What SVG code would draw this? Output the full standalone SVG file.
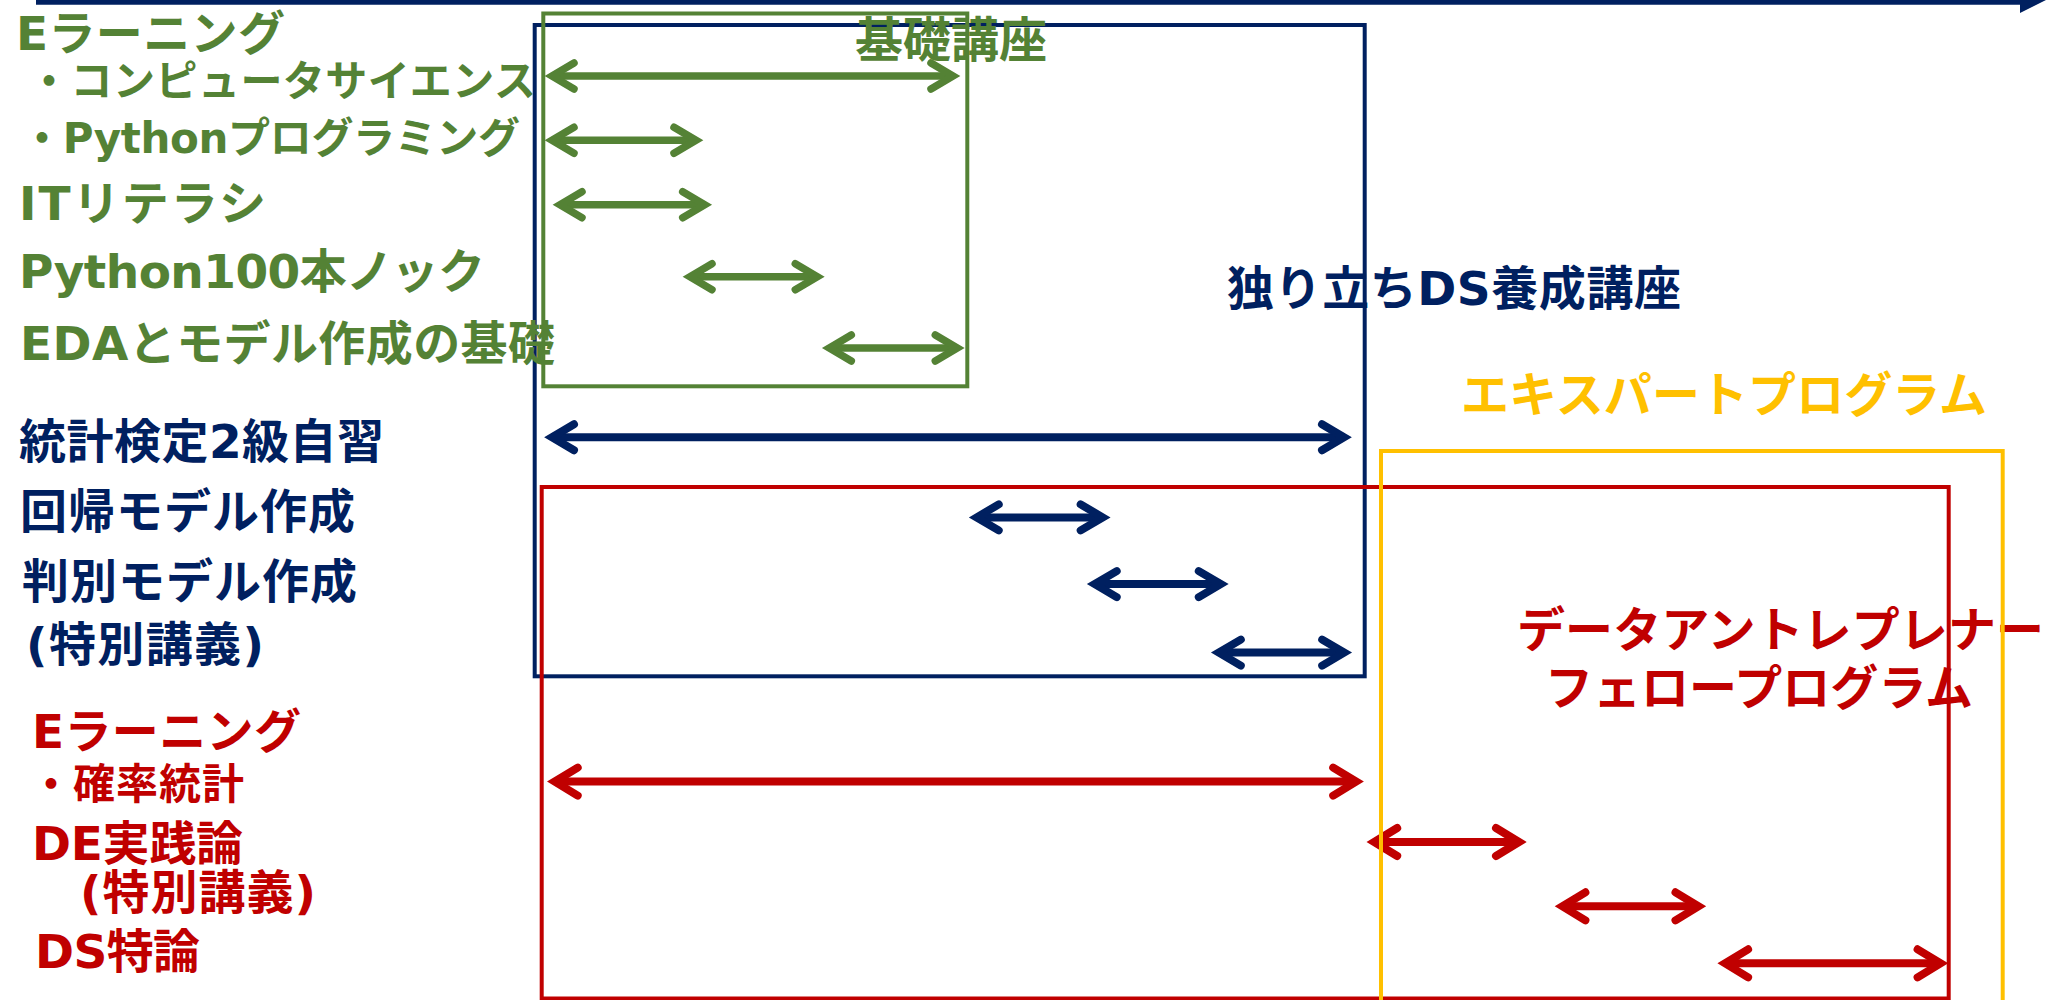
<svg xmlns="http://www.w3.org/2000/svg" width="2046" height="1000" viewBox="0 0 2046 1000">
  <style>
    text { font-family: "DejaVu Sans", "Noto Sans CJK JP", sans-serif; font-weight: bold; }
    .g { fill: #548235; }
    .n { fill: #002060; }
    .r { fill: #C00000; }
    .y { fill: #FFC000; }
    .box { fill: none; stroke-width: 4; }
    .ag { stroke: #548235; stroke-width: 7.5; fill: none; }
    .an { stroke: #002060; stroke-width: 8; fill: none; }
    .ar { stroke: #C00000; stroke-width: 8; fill: none; }
  </style>
  <defs>
    <marker id="mg" markerUnits="userSpaceOnUse" orient="auto-start-reverse" overflow="visible" refX="0" refY="0" markerWidth="1" markerHeight="1">
      <path d="M -22,-13 L 0,0 L -22,13" fill="none" stroke="#548235" stroke-width="7.5" stroke-linecap="round" stroke-linejoin="miter"/>
    </marker>
    <marker id="mn" markerUnits="userSpaceOnUse" orient="auto-start-reverse" overflow="visible" refX="0" refY="0" markerWidth="1" markerHeight="1">
      <path d="M -22,-13 L 0,0 L -22,13" fill="none" stroke="#002060" stroke-width="8" stroke-linecap="round" stroke-linejoin="miter"/>
    </marker>
    <marker id="mr" markerUnits="userSpaceOnUse" orient="auto-start-reverse" overflow="visible" refX="0" refY="0" markerWidth="1" markerHeight="1">
      <path d="M -23,-14 L 0,0 L -23,14" fill="none" stroke="#C00000" stroke-width="8" stroke-linecap="round" stroke-linejoin="miter"/>
    </marker>
  </defs>

  <rect width="2046" height="1000" fill="#FFFFFF"/>

  <!-- time axis along the top edge -->
  <g id="timeline">
    <line x1="36" y1="0" x2="2021" y2="0" stroke="#002060" stroke-width="9.4"/>
    <polygon points="2020,-13 2046,0 2020,13" fill="#002060"/>
  </g>

  <!-- programme frames -->
  <g id="ds-course">
    <rect class="box" x="534.7" y="25" width="830" height="651.3" stroke="#002060"/>
    <text class="n" x="1227" y="305" font-size="47" textLength="454">独り立ちDS養成講座</text>
  </g>
  <g id="basic-course">
    <rect class="box" x="543.3" y="13.5" width="424" height="372.8" stroke="#548235"/>
    <text class="g" x="855" y="57" font-size="48" textLength="192">基礎講座</text>
  </g>
  <g id="entrepreneur-program">
    <rect class="box" x="541.7" y="487" width="1407" height="511.5" stroke="#C00000"/>
    <text class="r" x="1517" y="647" font-size="48" textLength="527">データアントレプレナー</text>
    <text class="r" x="1545" y="705" font-size="48" textLength="428">フェロープログラム</text>
  </g>

  <!-- course duration arrows -->
  <g id="connectors">
    <line class="ag" x1="552" y1="76" x2="953" y2="76" marker-start="url(#mg)" marker-end="url(#mg)"/>
    <line class="ag" x1="552" y1="140.3" x2="696" y2="140.3" marker-start="url(#mg)" marker-end="url(#mg)"/>
    <line class="ag" x1="560" y1="204.7" x2="704.7" y2="204.7" marker-start="url(#mg)" marker-end="url(#mg)"/>
    <line class="ag" x1="690" y1="276.7" x2="817.3" y2="276.7" marker-start="url(#mg)" marker-end="url(#mg)"/>
    <line class="ag" x1="829.3" y1="348" x2="957.3" y2="348" marker-start="url(#mg)" marker-end="url(#mg)"/>

    <line class="an" x1="552" y1="437.3" x2="1344" y2="437.3" marker-start="url(#mn)" marker-end="url(#mn)"/>
    <line class="an" x1="976.7" y1="517.4" x2="1102.7" y2="517.4" marker-start="url(#mn)" marker-end="url(#mn)"/>
    <line class="an" x1="1094.7" y1="584.1" x2="1220.8" y2="584.1" marker-start="url(#mn)" marker-end="url(#mn)"/>
    <line class="an" x1="1218.8" y1="652.6" x2="1344.2" y2="652.6" marker-start="url(#mn)" marker-end="url(#mn)"/>

    <line class="ar" x1="554.7" y1="781.6" x2="1356.2" y2="781.6" marker-start="url(#mr)" marker-end="url(#mr)"/>
    <line class="ar" x1="1374.2" y1="842" x2="1519" y2="842" marker-start="url(#mr)" marker-end="url(#mr)"/>
    <line class="ar" x1="1562.4" y1="906.3" x2="1698.5" y2="906.3" marker-start="url(#mr)" marker-end="url(#mr)"/>
    <line class="ar" x1="1725.1" y1="963.3" x2="1940.6" y2="963.3" marker-start="url(#mr)" marker-end="url(#mr)"/>
  </g>

  <g id="expert-program">
    <rect class="box" x="1381" y="451" width="621.7" height="600" stroke="#FFC000"/>
    <text class="y" x="1461" y="412" font-size="48" textLength="526">エキスパートプログラム</text>
  </g>

  <!-- course names on the left -->
  <g id="labels-basic">
    <text class="g" x="16" y="50" font-size="47" textLength="269">Eラーニング</text>
    <text class="g" x="28" y="96" font-size="42" textLength="508">・コンピュータサイエンス</text>
    <text class="g" x="21" y="153" font-size="42" textLength="499">・Pythonプログラミング</text>
    <text class="g" x="19" y="220" font-size="47" textLength="247">ITリテラシ</text>
    <text class="g" x="19" y="288" font-size="47" textLength="466">Python100本ノック</text>
    <text class="g" x="20" y="360" font-size="47" textLength="535">EDAとモデル作成の基礎</text>
  </g>
  <g id="labels-ds">
    <text class="n" x="19" y="458" font-size="47" textLength="365">統計検定2級自習</text>
    <text class="n" x="20" y="528" font-size="47" textLength="335">回帰モデル作成</text>
    <text class="n" x="22" y="598" font-size="47" textLength="335">判別モデル作成</text>
    <text class="n" x="26" y="661" font-size="47" textLength="238">(特別講義)</text>
  </g>
  <g id="labels-entrepreneur">
    <text class="r" x="32" y="748" font-size="47" textLength="269">Eラーニング</text>
    <text class="r" x="30" y="799" font-size="42" textLength="214">・確率統計</text>
    <text class="r" x="32" y="860" font-size="47" textLength="211">DE実践論</text>
    <text class="r" x="80" y="909" font-size="47" textLength="236">(特別講義)</text>
    <text class="r" x="35" y="968" font-size="47" textLength="165">DS特論</text>
  </g>
</svg>
